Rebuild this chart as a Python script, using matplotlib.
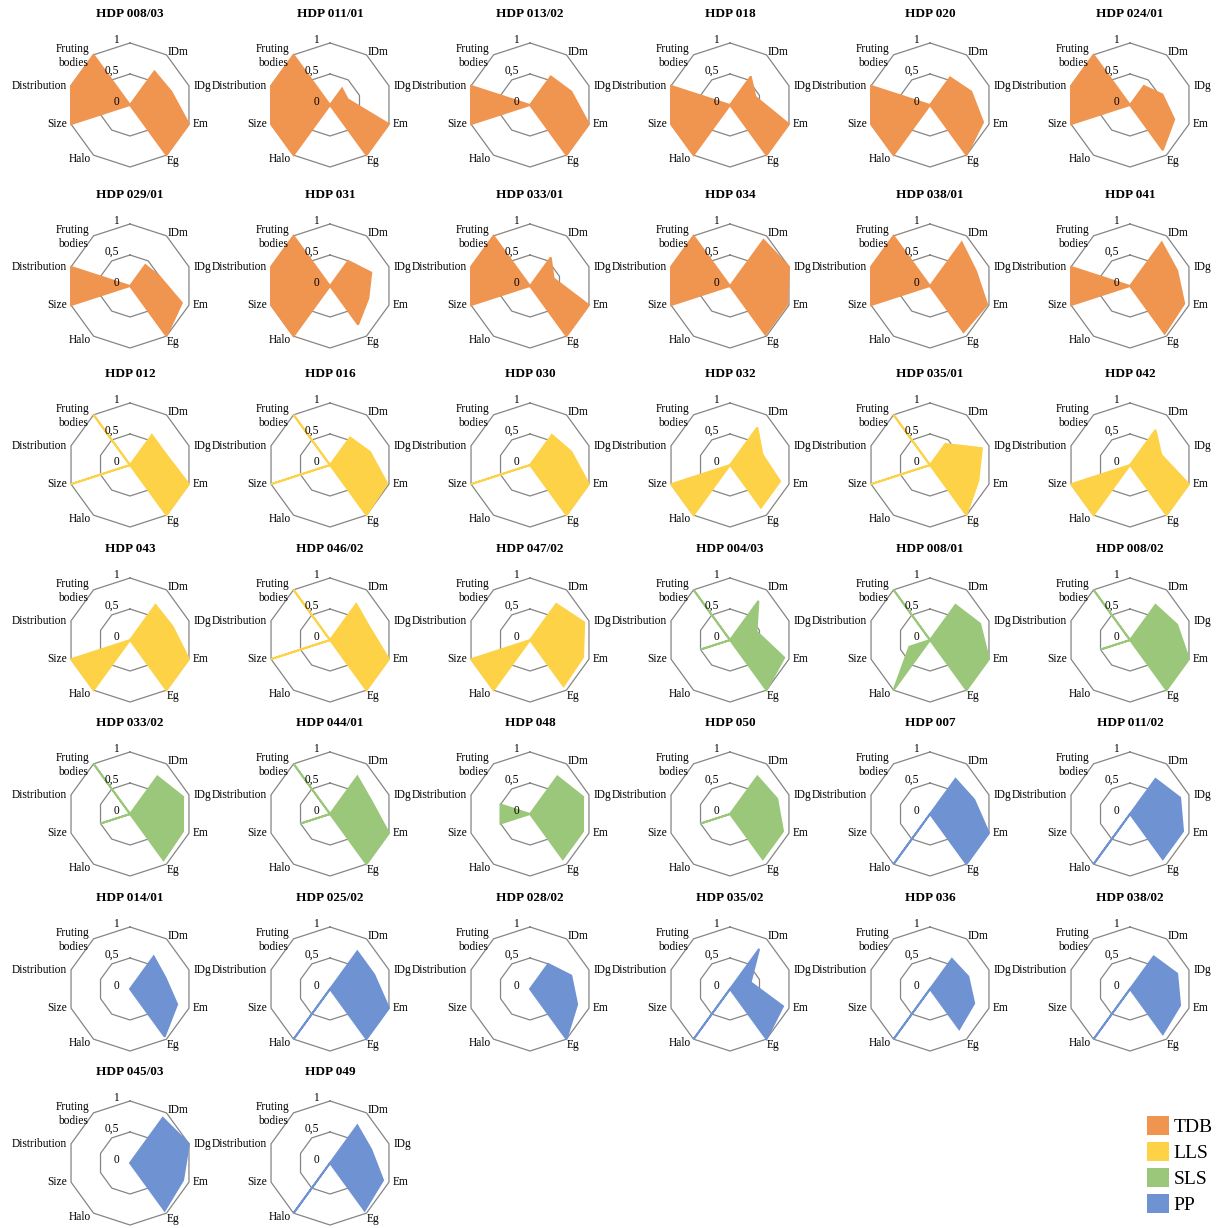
import numpy as np
import matplotlib
matplotlib.use("Agg")
import matplotlib.pyplot as plt
from matplotlib.patches import Patch

plt.rcParams['font.family'] = ['Liberation Serif', 'DejaVu Serif']

# ---------------- data ----------------
names = ["HDP 008/03", "HDP 011/01", "HDP 013/02", "HDP 018", "HDP 020", "HDP 024/01",
         "HDP 029/01", "HDP 031", "HDP 033/01", "HDP 034", "HDP 038/01", "HDP 041",
         "HDP 012", "HDP 016", "HDP 030", "HDP 032", "HDP 035/01", "HDP 042",
         "HDP 043", "HDP 046/02", "HDP 047/02", "HDP 004/03", "HDP 008/01", "HDP 008/02",
         "HDP 033/02", "HDP 044/01", "HDP 048", "HDP 050", "HDP 007", "HDP 011/02",
         "HDP 014/01", "HDP 025/02", "HDP 028/02", "HDP 035/02", "HDP 036", "HDP 038/02",
         "HDP 045/03", "HDP 049"]
groups = ["TDB"] * 12 + ["LLS"] * 9 + ["SLS"] * 7 + ["PP"] * 10

idm = [0.67, 0.33, 0.57, 0.57, 0.55, 0.38, 0.42, 0.50, 0.57, 0.92, 0.87, 0.87,
       0.60, 0.55, 0.60, 0.75, 0.42, 0.70, 0.70, 0.72, 0.72,
       0.78, 0.70, 0.70, 0.75, 0.75, 0.75, 0.75,
       0.70, 0.70, 0.65, 0.75, 0.50, 0.80, 0.60, 0.65, 0.90, 0.75]
idg = [0.70, 0.30, 0.70, 0.43, 0.70, 0.55, 0.50, 0.70, 0.40, 1.00, 0.78, 0.80,
       0.60, 0.68, 0.70, 0.55, 0.88, 0.53, 0.72, 0.67, 0.92,
       0.45, 0.85, 0.80, 0.90, 0.70, 0.90, 0.80,
       0.75, 0.85, 0.60, 0.75, 0.70, 0.35, 0.65, 0.80, 1.00, 0.70]
em = [1.00, 1.00, 1.00, 1.00, 0.90, 0.75, 0.88, 0.65, 1.00, 0.97, 0.97, 0.92,
      1.00, 0.97, 1.00, 0.85, 0.82, 1.00, 1.00, 1.00, 0.90,
      0.92, 1.00, 1.00, 0.90, 1.00, 0.90, 0.90,
      1.00, 0.90, 0.80, 1.00, 0.80, 0.90, 0.75, 0.85, 0.90, 0.90]
eg = [1.00, 1.00, 1.00, 1.00, 1.00, 0.90, 1.00, 0.77, 1.00, 0.97, 0.92, 0.95,
      1.00, 1.00, 1.00, 0.85, 1.00, 1.00, 1.00, 1.00, 0.92,
      1.00, 1.00, 1.00, 0.92, 1.00, 0.90, 0.90,
      1.00, 0.90, 0.95, 1.00, 1.00, 1.00, 0.80, 0.90, 0.95, 0.95]
halo = [0, 1, 0, 1, 1, 0, 0, 1, 0, 0, 0, 0,
        0, 0, 0, 1, 0, 1, 1, 0, 1,
        0, 1, 0, 0, 0, 0, 0,
        1, 1, 0, 1, 0, 1, 1, 1, 0, 1]
size = [1, 1, 1, 1, 1, 1, 1, 1, 1, 1, 1, 1,
        1, 1, 1, 1, 1, 1, 1, 1, 1,
        0.5, 0.35, 0.5, 0.5, 0.5, 0.5, 0.5,
        0, 0, 0, 0, 0, 0, 0, 0, 0, 0]
distribution = [1, 1, 1, 1, 1, 1, 1, 1, 1, 1, 1, 1,
                0, 0, 0, 0, 0, 0, 0, 0, 0,
                0, 0, 0, 0, 0, 0.5, 0,
                0, 0, 0, 0, 0, 0, 0, 0, 0, 0]
fruting = [1, 1, 0, 0, 0, 1, 0, 1, 1, 1, 1, 0,
           1, 1, 0, 0, 1, 0, 0, 1, 0,
           1, 1, 1, 1, 1, 0, 0,
           0, 0, 0, 0, 0, 0, 0, 0, 0, 0]

axis_labels = ["", "IDm", "IDg", "Em", "Eg", "", "Halo", "Size", "Distribution", "Fruting\nbodies"]
tick_values = [1.0, 0.5, 0.0]
tick_labels = ["1", "0,5", "0"]
group_names = ["TDB", "LLS", "SLS", "PP"]
group_colors = {"TDB": "#F0954F", "LLS": "#FDD247", "SLS": "#9AC779", "PP": "#6F92D3"}

# ---------------- layout ----------------
W, H = 1222, 1228
fig = plt.figure(figsize=(W / 100, H / 100), dpi=100)

col_x = [130, 330, 530, 730, 930, 1130]
title_y = [14, 195, 374, 549, 723, 898, 1072]
R = 62

n = len(axis_labels)
theta = np.arange(n) * 2 * np.pi / n
theta_c = np.append(theta, theta[0])

lab_style = {
    "IDm": dict(xytext=(1, 2), ha="left", va="center"),
    "IDg": dict(xytext=(3, 0), ha="left", va="center"),
    "Em": dict(xytext=(3, 0), ha="left", va="center"),
    "Eg": dict(xytext=(0, -4), ha="left", va="center"),
    "Halo": dict(xytext=(-2, -3), ha="right", va="center"),
    "Size": dict(xytext=(-3, 0), ha="right", va="center"),
    "Distribution": dict(xytext=(-3, 0), ha="right", va="center"),
    "Fruting\nbodies": dict(xytext=(-3, -1), ha="right", va="center"),
}

for i, name in enumerate(names):
    r_i, c_i = divmod(i, 6)
    cx = col_x[c_i]
    cy = title_y[r_i] + 91
    ax = fig.add_axes([(cx - R) / W, 1 - (cy + R) / H, 2 * R / W, 2 * R / H],
                      projection="polar")
    ax.set_theta_zero_location("N")
    ax.set_theta_direction(-1)
    ax.set_ylim(0, 1)
    ax.grid(False)
    ax.set_xticks([])
    ax.set_yticks([])
    ax.spines["polar"].set_visible(False)
    ax.patch.set_alpha(0)

    for lev in (0.5, 1.0):
        ax.plot(theta_c, [lev] * (n + 1), color="#858585", lw=0.9, clip_on=False, zorder=1)

    vals = [0, idm[i], idg[i], em[i], eg[i], 0, halo[i], size[i], distribution[i], fruting[i]]
    col = group_colors[groups[i]]
    ax.fill(theta, vals, facecolor=col, edgecolor=col, lw=1.4, clip_on=False, zorder=2,
            joinstyle="miter")

    for t, lab in zip(theta, axis_labels):
        if not lab:
            continue
        st = lab_style[lab]
        ax.annotate(lab, xy=(t, 1.0), xytext=st["xytext"], textcoords="offset points",
                    ha=st["ha"], va=st["va"], fontsize=8.3, multialignment="center",
                    linespacing=1.25, annotation_clip=False)

    for lev, txt in zip(tick_values, tick_labels):
        ax.annotate(txt, xy=(0, lev), xytext=(-8, 2), textcoords="offset points",
                    ha="right", va="center", fontsize=8.3, annotation_clip=False)

    fig.text(cx / W, 1 - title_y[r_i] / H, name, ha="center", va="center",
             fontsize=9.5, fontweight="bold")

handles = [Patch(facecolor=group_colors[g], edgecolor="none", label=g) for g in group_names]
fig.legend(handles=handles, loc="upper left", bbox_to_anchor=(1133 / W, 1 - 1102 / H),
           frameon=False, fontsize=14, handlelength=1.15, handleheight=1.15,
           handletextpad=0.25, labelspacing=0.3, borderpad=0.2)

fig.savefig("out.png", dpi=100)
